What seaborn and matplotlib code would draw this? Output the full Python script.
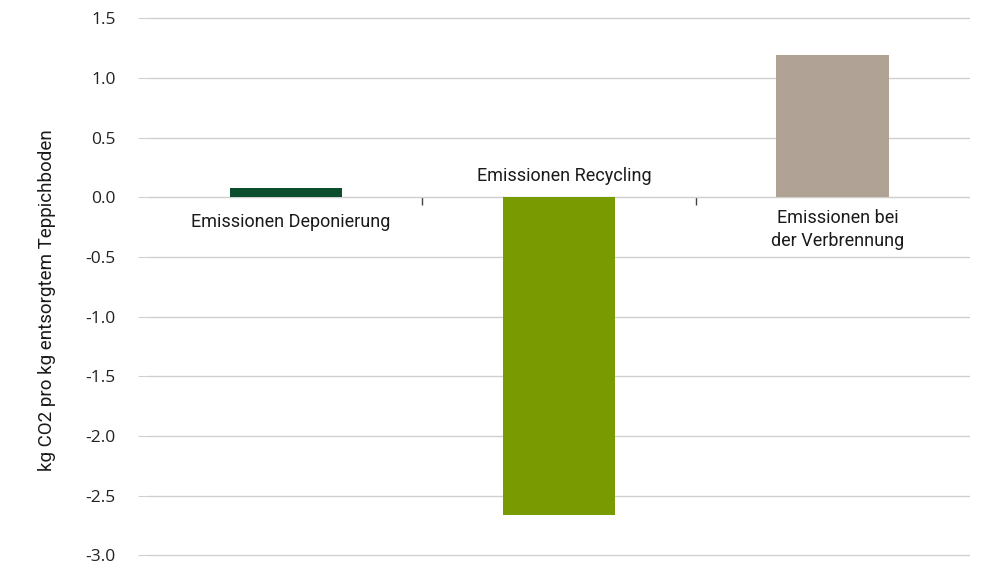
import matplotlib
matplotlib.use("Agg")
import matplotlib.pyplot as plt
import seaborn as sns
import pandas as pd
from matplotlib.ticker import FixedLocator

# data
categories = ["Emissionen Deponierung", "Emissionen Recycling", "Emissionen bei\nder Verbrennung"]
values = [0.08, -2.66, 1.19]
colors = ["#0b4d2c", "#7a9a01", "#b0a295"]
label_y = [-0.21, 0.18, -0.27]
yticks = [1.5, 1.0, 0.5, 0.0, -0.5, -1.0, -1.5, -2.0, -2.5, -3.0]

df = pd.DataFrame({"cat": categories, "val": values})

sns.set_style("white")
plt.rcParams["font.family"] = ["Roboto", "DejaVu Sans"]

fig = plt.figure(figsize=(9.86, 5.70), dpi=100)
ax = fig.add_axes([0.151, 0.026, 0.832, 0.942])

sns.barplot(data=df, x="cat", y="val", hue="cat", palette=colors,
            width=0.41, legend=False, saturation=1, linewidth=0, ax=ax)

ax.set_xlim(-0.5, 2.5)
ax.set_ylim(-3.0, 1.5)
ax.set_yticks(yticks)
ax.set_yticklabels([f"{t:.1f}" for t in yticks], family="Open Sans", fontsize=12.5, color="#222222")
ax.yaxis.grid(True, color="#d0d0d0", linewidth=1)
for gl in ax.get_ygridlines():
    gl.set_clip_on(False)
ax.set_axisbelow(True)
ax.tick_params(axis="y", left=True, length=8, color="#d0d0d0", pad=16)

for s in ["top", "right", "left"]:
    ax.spines[s].set_visible(False)
ax.spines["bottom"].set_position(("data", 0))
ax.spines["bottom"].set_color("#d0d0d0")
ax.spines["bottom"].set_zorder(0)

# category boundary ticks on the zero line
ax.set_xticks([0, 1, 2])
ax.set_xticklabels(["", "", ""])
ax.tick_params(axis="x", which="major", length=0)
ax.xaxis.set_minor_locator(FixedLocator([0.5, 1.5]))
ax.tick_params(axis="x", which="minor", bottom=True, length=6, width=1,
               color="#444444", direction="out")

ax.set_xlabel("")
ax.set_ylabel("")

for i, (c, ly) in enumerate(zip(categories, label_y)):
    ax.text(i + 0.02, ly, c, ha="center", va="center", fontsize=13,
            color="#1a1a1a", linespacing=1.3)

fig.text(47 / 986, 1 - 300 / 570, "kg CO2 pro kg entsorgtem Teppichboden",
         rotation=90, ha="center", va="center", fontsize=13.5, color="#1a1a1a")

fig.savefig("out.png", dpi=100)
